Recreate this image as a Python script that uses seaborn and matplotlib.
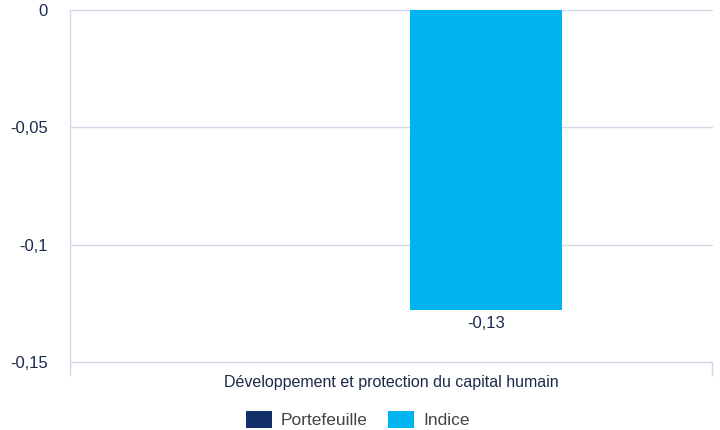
import matplotlib
matplotlib.use("Agg")
import matplotlib.pyplot as plt
import seaborn as sns
import pandas as pd
from matplotlib.ticker import FixedLocator

categories = ["Développement et protection du capital humain"]
series = ["Portefeuille", "Indice"]
portefeuille = [0.0]
indice = [-0.128]
labels_indice = ["-0,13"]
yticks = [0, -0.05, -0.1, -0.15]
ytick_labels = ["0", "-0,05", "-0,1", "-0,15"]
colors = {"Portefeuille": "#13306a", "Indice": "#00b5ef"}

rows = []
for c, p, i in zip(categories, portefeuille, indice):
    rows.append({"cat": c, "serie": "Portefeuille", "val": p})
    rows.append({"cat": c, "serie": "Indice", "val": i})
df = pd.DataFrame(rows)

sns.set_style("white")
plt.rcParams["font.family"] = ["Liberation Sans", "DejaVu Sans"]

grid_c = "#cfd9e8"
fig = plt.figure(figsize=(7.2, 4.3), dpi=100)
ax = fig.add_axes([70/720, 1-362/430, 642/720, 352/430])

sns.barplot(data=df, x="cat", y="val", hue="serie", hue_order=series,
            palette=colors, width=0.592, gap=0.2, ax=ax, legend=True,
            errorbar=None, saturation=1, linewidth=0)

# zero-height Portefeuille bars are not visible in the reference
for p in ax.containers[0]:
    p.set_visible(False)

ax.set_ylim(-0.15, 0)
ax.set_xlim(-0.5, 0.5)
ax.yaxis.set_major_locator(FixedLocator(yticks))
ax.set_yticklabels(ytick_labels)
ax.grid(False)
for y in yticks:
    ax.axhline(y, color=grid_c, linewidth=1, zorder=0.5, clip_on=False)
for s in ["top", "right", "bottom"]:
    ax.spines[s].set_visible(False)
ax.spines["left"].set_color(grid_c)
ax.spines["left"].set_linewidth(1)
ax.spines["left"].set_zorder(0.6)
ax.tick_params(axis="y", length=0, pad=16, labelsize=12, labelcolor="#1b2a4a")
ax.set_xticks([0])
ax.set_xticklabels(categories)
ax.tick_params(axis="x", which="major", length=0, pad=9, labelsize=11.5,
               labelcolor="#1b2a4a")
ax.set_xticks([-0.5, 0.5], minor=True)
ax.tick_params(axis="x", which="minor", bottom=True, length=10, width=1,
               color=grid_c)
ax.set_xlabel("")
ax.set_ylabel("")

indice_container = ax.containers[1]
ax.bar_label(indice_container, labels=labels_indice, padding=4,
             fontsize=12, color="#1b2a4a")

leg = ax.legend(loc="upper center", bbox_to_anchor=(0.448, -0.095), ncol=2,
                frameon=False, fontsize=12.5, handlelength=1.5, handleheight=1.1,
                columnspacing=1.2, handletextpad=0.5)
for t in leg.get_texts():
    t.set_color("#444444")

fig.savefig("out.png", dpi=100)
